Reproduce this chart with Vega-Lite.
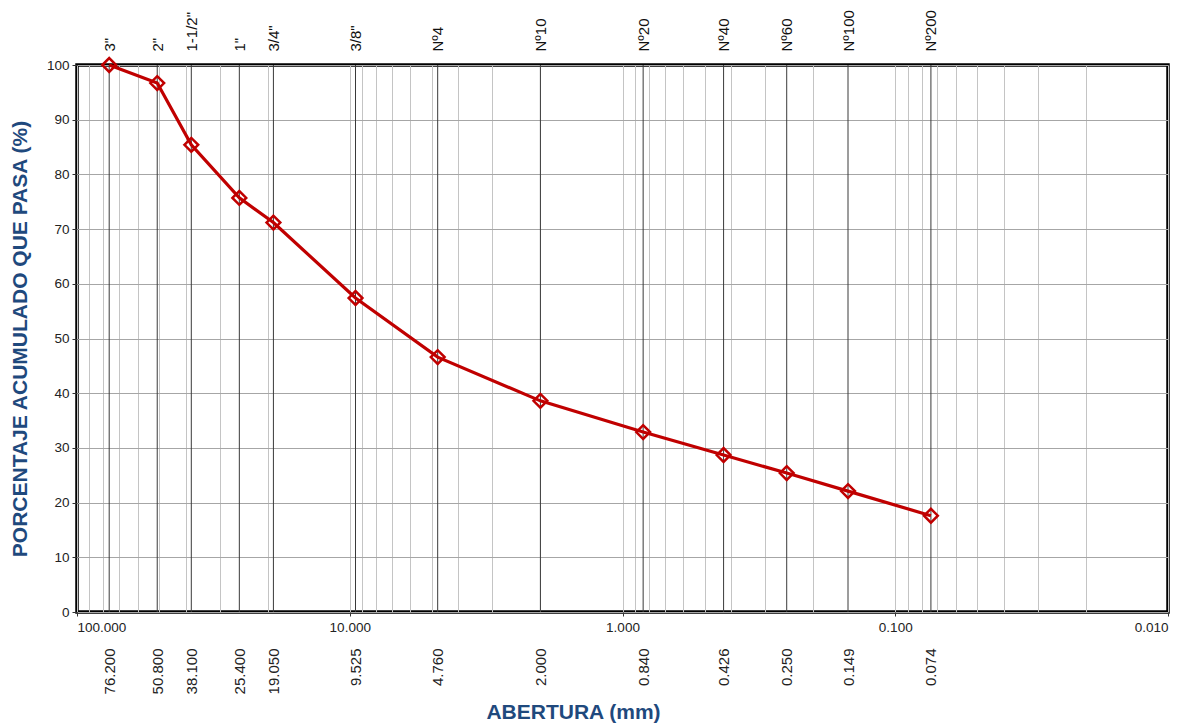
{
  "$schema": "https://vega.github.io/schema/vega-lite/v6.json",
  "width": 1091,
  "height": 547,
  "autosize": {"type": "none"},
  "padding": {"left": 77, "top": 65, "right": 26, "bottom": 113},
  "background": "white",
  "config": {
    "font": "Liberation Sans",
    "view": {"stroke": "black", "strokeWidth": 3.5},
    "axis": {"labelFont": "Liberation Sans", "labelFontSize": 13.5, "labelColor": "#222", "titleFont": "Liberation Sans", "titleFontWeight": "bold", "titleFontSize": 21, "titleColor": "#1F497D"}
  },
  "data": {
    "values": [
      {"tamiz": "3\"", "abertura": 76.2, "pasa": 100.0},
      {"tamiz": "2\"", "abertura": 50.8, "pasa": 96.7},
      {"tamiz": "1-1/2\"", "abertura": 38.1, "pasa": 85.4},
      {"tamiz": "1\"", "abertura": 25.4, "pasa": 75.7},
      {"tamiz": "3/4\"", "abertura": 19.05, "pasa": 71.2},
      {"tamiz": "3/8\"", "abertura": 9.525, "pasa": 57.4},
      {"tamiz": "Nº4", "abertura": 4.76, "pasa": 46.6},
      {"tamiz": "Nº10", "abertura": 2.0, "pasa": 38.6},
      {"tamiz": "Nº20", "abertura": 0.84, "pasa": 32.9},
      {"tamiz": "Nº40", "abertura": 0.426, "pasa": 28.7},
      {"tamiz": "Nº60", "abertura": 0.25, "pasa": 25.4},
      {"tamiz": "Nº100", "abertura": 0.149, "pasa": 22.1},
      {"tamiz": "Nº200", "abertura": 0.074, "pasa": 17.6}
    ]
  },
  "layer": [
    {
      "mark": {"type": "rule", "color": "#3a3a3a", "strokeWidth": 1},
      "encoding": {
        "x": {
          "field": "abertura", "type": "quantitative",
          "scale": {"type": "log", "domain": [0.01, 100], "reverse": true, "nice": false},
          "axis": {
            "orient": "top", "title": null, "domain": false, "ticks": false, "grid": false,
            "labelAngle": -90, "labelPadding": 14, "labelFontSize": 15, "labelColor": "#111",
            "values": [76.2, 50.8, 38.1, 25.4, 19.05, 9.525, 4.76, 2.0, 0.84, 0.426, 0.25, 0.149, 0.074],
            "labelExpr": "datum.value > 70 ? '3\"' : datum.value > 50 ? '2\"' : datum.value > 30 ? '1-1/2\"' : datum.value > 20 ? '1\"' : datum.value > 15 ? '3/4\"' : datum.value > 9 ? '3/8\"' : datum.value > 4 ? 'Nº4' : datum.value > 1.5 ? 'Nº10' : datum.value > 0.6 ? 'Nº20' : datum.value > 0.3 ? 'Nº40' : datum.value > 0.2 ? 'Nº60' : datum.value > 0.1 ? 'Nº100' : 'Nº200'"
          }
        }
      }
    },
    {
      "mark": {"type": "line", "color": "#C00000", "strokeWidth": 3.2},
      "encoding": {
        "x": {
          "field": "abertura", "type": "quantitative",
          "scale": {"type": "log", "domain": [0.01, 100], "reverse": true, "nice": false},
          "axis": {
            "orient": "bottom", "domain": false, "grid": true, "gridColor": "#c4c4c4", "gridWidth": 1,
            "ticks": true, "tickSize": 4, "tickColor": "#333",
            "tickOpacity": {"condition": {"test": "indexof([100,10,1,0.1,0.01], datum.value) >= 0", "value": 1}, "value": 0},
            "labelPadding": 4,
            "values": [100, 90, 80, 70, 60, 50, 40, 30, 20, 10, 9, 8, 7, 6, 5, 4, 3, 2, 1, 0.9, 0.8, 0.7, 0.6, 0.5, 0.4, 0.3, 0.2, 0.1, 0.09, 0.08, 0.07, 0.06, 0.05, 0.04, 0.03, 0.02, 0.01],
            "labelExpr": "indexof([100,10,1,0.1,0.01], datum.value) >= 0 ? format(datum.value, '.3f') : ''",
            "labelOverlap": false,
            "title": "ABERTURA (mm)",
            "titleX": 496, "titleY": 100, "titleAlign": "center", "titleBaseline": "middle", "titleAnchor": null
          }
        },
        "y": {
          "field": "pasa", "type": "quantitative",
          "scale": {"domain": [0, 100], "nice": false},
          "axis": {
            "values": [0, 10, 20, 30, 40, 50, 60, 70, 80, 90, 100],
            "grid": true, "gridColor": "#a6a6a6", "domain": false, "tickSize": 5, "tickColor": "#333", "labelPadding": 3,
            "title": "PORCENTAJE ACUMULADO QUE PASA (%)",
            "titleX": -57, "titleY": 273.5, "titleAngle": -90, "titleAlign": "center", "titleBaseline": "middle"
          }
        }
      }
    },
    {
      "mark": {"type": "point", "shape": "diamond", "filled": false, "color": "#C00000", "strokeWidth": 2.5, "size": 190, "opacity": 1},
      "encoding": {
        "x": {
          "field": "abertura", "type": "quantitative",
          "scale": {"type": "log", "domain": [0.01, 100], "reverse": true, "nice": false},
          "axis": {
            "orient": "bottom", "title": null, "domain": false, "ticks": false, "grid": false,
            "labelAngle": -90, "labelPadding": 36, "labelFontSize": 15, "labelColor": "#222",
            "values": [76.2, 50.8, 38.1, 25.4, 19.05, 9.525, 4.76, 2.0, 0.84, 0.426, 0.25, 0.149, 0.074],
            "format": ".3f", "labelOverlap": false
          }
        },
        "y": {
          "field": "pasa", "type": "quantitative",
          "scale": {"domain": [0, 100], "nice": false}
        }
      }
    }
  ],
  "resolve": {"axis": {"x": "independent"}}
}
